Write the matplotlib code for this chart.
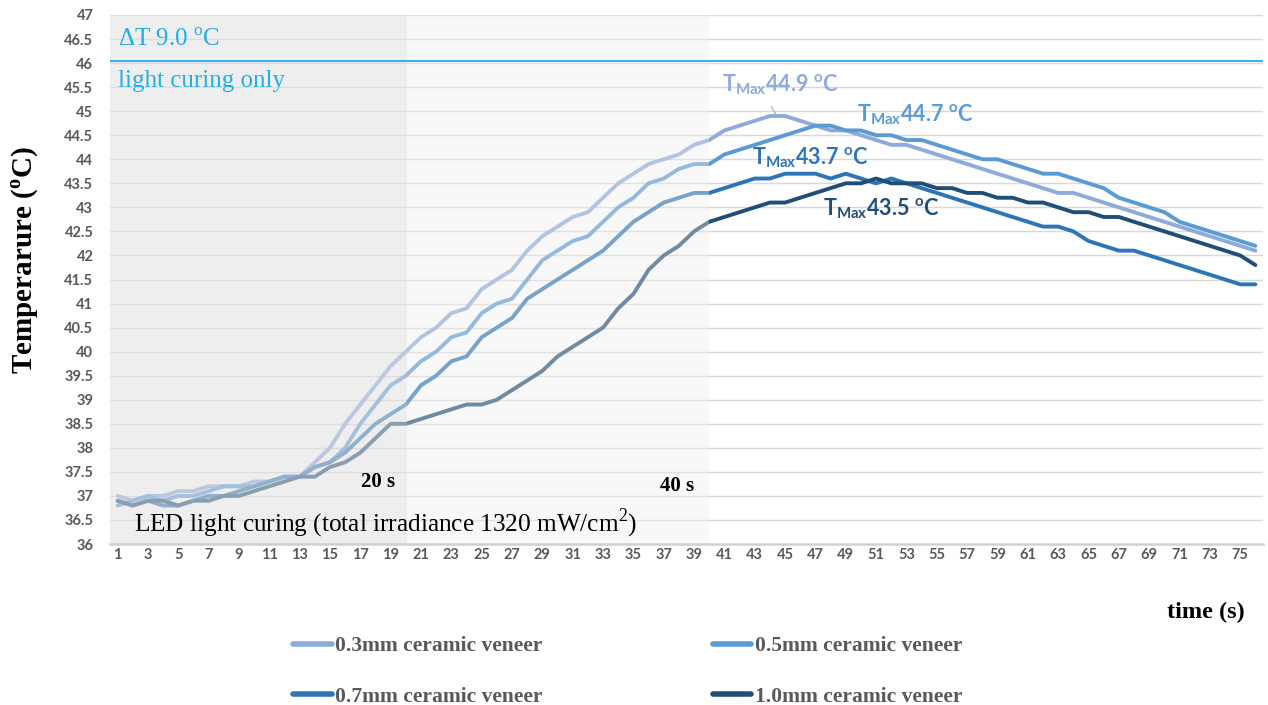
import matplotlib.pyplot as plt

time_s = list(range(1, 77))

t03 = [37.0, 36.9, 37.0, 37.0, 37.1, 37.1, 37.2, 37.2, 37.2, 37.3, 37.3, 37.4, 37.4, 37.7, 38.0, 38.5, 38.9, 39.3, 39.7, 40.0,
       40.3, 40.5, 40.8, 40.9, 41.3, 41.5, 41.7, 42.1, 42.4, 42.6, 42.8, 42.9, 43.2, 43.5, 43.7, 43.9, 44.0, 44.1, 44.3, 44.4,
       44.6, 44.7, 44.8, 44.9, 44.9, 44.8, 44.7, 44.6, 44.6, 44.5, 44.4, 44.3, 44.3, 44.2, 44.1, 44.0, 43.9, 43.8, 43.7, 43.6,
       43.5, 43.4, 43.3, 43.3, 43.2, 43.1, 43.0, 42.9, 42.8, 42.7, 42.6, 42.5, 42.4, 42.3, 42.2, 42.1]
t05 = [36.8, 36.9, 37.0, 36.9, 37.0, 37.0, 37.1, 37.2, 37.2, 37.2, 37.3, 37.4, 37.4, 37.6, 37.7, 38.0, 38.5, 38.9, 39.3, 39.5,
       39.8, 40.0, 40.3, 40.4, 40.8, 41.0, 41.1, 41.5, 41.9, 42.1, 42.3, 42.4, 42.7, 43.0, 43.2, 43.5, 43.6, 43.8, 43.9, 43.9,
       44.1, 44.2, 44.3, 44.4, 44.5, 44.6, 44.7, 44.7, 44.6, 44.6, 44.5, 44.5, 44.4, 44.4, 44.3, 44.2, 44.1, 44.0, 44.0, 43.9,
       43.8, 43.7, 43.7, 43.6, 43.5, 43.4, 43.2, 43.1, 43.0, 42.9, 42.7, 42.6, 42.5, 42.4, 42.3, 42.2]
t07 = [36.9, 36.8, 36.9, 36.8, 36.8, 36.9, 37.0, 37.0, 37.1, 37.2, 37.3, 37.4, 37.4, 37.6, 37.7, 37.9, 38.2, 38.5, 38.7, 38.9,
       39.3, 39.5, 39.8, 39.9, 40.3, 40.5, 40.7, 41.1, 41.3, 41.5, 41.7, 41.9, 42.1, 42.4, 42.7, 42.9, 43.1, 43.2, 43.3, 43.3,
       43.4, 43.5, 43.6, 43.6, 43.7, 43.7, 43.7, 43.6, 43.7, 43.6, 43.5, 43.6, 43.5, 43.4, 43.3, 43.2, 43.1, 43.0, 42.9, 42.8,
       42.7, 42.6, 42.6, 42.5, 42.3, 42.2, 42.1, 42.1, 42.0, 41.9, 41.8, 41.7, 41.6, 41.5, 41.4, 41.4]
t10 = [36.9, 36.8, 36.9, 36.9, 36.8, 36.9, 36.9, 37.0, 37.0, 37.1, 37.2, 37.3, 37.4, 37.4, 37.6, 37.7, 37.9, 38.2, 38.5, 38.5,
       38.6, 38.7, 38.8, 38.9, 38.9, 39.0, 39.2, 39.4, 39.6, 39.9, 40.1, 40.3, 40.5, 40.9, 41.2, 41.7, 42.0, 42.2, 42.5, 42.7,
       42.8, 42.9, 43.0, 43.1, 43.1, 43.2, 43.3, 43.4, 43.5, 43.5, 43.6, 43.5, 43.5, 43.5, 43.4, 43.4, 43.3, 43.3, 43.2, 43.2,
       43.1, 43.1, 43.0, 42.9, 42.9, 42.8, 42.8, 42.7, 42.6, 42.5, 42.4, 42.3, 42.2, 42.1, 42.0, 41.8]

series = [t03, t05, t07, t10]
labels = ['0.3mm ceramic veneer', '0.5mm ceramic veneer', '0.7mm ceramic veneer', '1.0mm ceramic veneer']
colors = ['#8faadc', '#5b9bd5', '#2e75b6', '#1f4e79']
tmax = ['44.9', '44.7', '43.7', '43.5']

yticks = [36 + 0.5 * i for i in range(23)]
xticks = list(range(1, 77, 2))

serif = 'Liberation Serif'
sans = 'Lato'
gray = '#595959'
cyan = '#1fb0e6'

fig = plt.figure(figsize=(12.68, 7.05), dpi=100)
ax = fig.add_axes([110 / 1268, 1 - 544 / 705, 1153 / 1268, 529 / 705])

lines = []
for y, lab, c in zip(series, labels, colors):
    ln, = ax.plot(time_s, y, color=c, lw=2.8, label=lab, solid_joinstyle='round',
                  solid_capstyle='round', zorder=3)
    lines.append(ln)

# shaded light-curing periods, drawn over the curves like the Excel shapes
ax.axvspan(0.5, 20.08, color='#e1e1e1', alpha=0.55, lw=0, zorder=4)
ax.axvspan(20.08, 39.96, color='#efefef', alpha=0.38, lw=0, zorder=4)

ax.set_xlim(0.5, 76.5)
ax.set_ylim(36, 47)
ax.set_yticks(yticks)
ax.set_yticklabels(['%g' % v for v in yticks])
ax.set_xticks(xticks)
ax.set_xticklabels([str(v) for v in xticks])
ax.tick_params(length=0, labelsize=10.5, labelcolor=gray)
ax.tick_params(axis='y', pad=12)
ax.tick_params(axis='x', pad=3)
for lb in ax.get_xticklabels() + ax.get_yticklabels():
    lb.set_family(sans)
    lb.set_weight('bold')
ax.grid(axis='y', color='#d9d9d9', lw=1)
ax.set_axisbelow(True)
for s in ['top', 'right', 'left']:
    ax.spines[s].set_visible(False)
ax.spines['bottom'].set_color('#d0d0d0')
ax.spines['bottom'].set_linewidth(1.8)
ax.spines['bottom'].set_zorder(5)

ax.axhline(46.05, color=cyan, lw=1.3, zorder=6)
ax.text(1.0, 46.48, 'ΔT 9.0 $^{\\mathregular{o}}$C', family=serif, fontsize=18,
        color=cyan, va='center', zorder=7)
ax.text(1.0, 45.63, 'light curing only', family=serif, fontsize=18, color=cyan,
        va='center', zorder=7)
ax.text(2.1, 36.43, r'LED light curing (total irradiance 1320 mW/cm$^{\mathregular{2}}$)',
        family=serif, fontsize=18.2, color='black', va='center', zorder=7)
ax.text(18.2, 37.29, '20 s', family=serif, fontsize=15, weight='bold', ha='center',
        va='center', zorder=7)
ax.text(37.9, 37.21, '40 s', family=serif, fontsize=15, weight='bold', ha='center',
        va='center', zorder=7)

pos = [(40.85, 45.55), (49.75, 44.92), (42.8, 44.03), (47.5, 42.98)]
for (x, y), v, c in zip(pos, tmax, colors):
    ax.text(x, y, r'T$_{\mathregular{Max}}$' + v + r' $^{\mathregular{o}}$C', family=sans,
            weight='bold', fontsize=15.5, color=c, va='center', zorder=7)
ax.plot([44.1, 44.45], [45.09, 44.9], color='#a6a6a6', lw=0.8, zorder=7)

fig.text(25 / 1268, 1 - 260 / 705, r'Temperarure ($^{\mathregular{o}}$C)', family=serif,
         weight='bold', fontsize=21, rotation=90, ha='center', va='center')
fig.text(1206 / 1268, 1 - 612 / 705, 'time (s)', family=serif, weight='bold', fontsize=17.5,
         ha='center', va='center')

order = [0, 2, 1, 3]
leg = fig.legend([lines[i] for i in order], [labels[i] for i in order], ncol=2,
                 loc='upper left', bbox_to_anchor=(293 / 1268, 1 - 636 / 705), frameon=False,
                 borderpad=0, borderaxespad=0,
                 prop={'family': serif, 'weight': 'bold', 'size': 15.5},
                 handlelength=1.8, handletextpad=0.15, columnspacing=7.9, labelspacing=1.43)
for t in leg.get_texts():
    t.set_color(gray)
for h in leg.get_lines():
    h.set_linewidth(4)

fig.savefig('out.png', dpi=100)
